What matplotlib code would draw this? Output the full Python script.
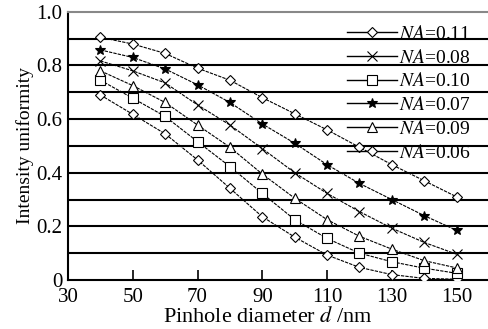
import matplotlib.pyplot as plt
import numpy as np

plt.rcParams['font.family'] = ['Liberation Serif', 'DejaVu Serif']
plt.rcParams['mathtext.fontset'] = 'stix'

# pinhole diameter d /nm
d = [40, 50, 60, 70, 80, 90, 100, 110, 120, 130, 140, 150]

# intensity uniformity per numerical aperture
na_006 = [0.905, 0.88, 0.845, 0.79, 0.745, 0.68, 0.62, 0.56, 0.495, 0.43, 0.37, 0.31]
na_007 = [0.858, 0.83, 0.787, 0.728, 0.662, 0.582, 0.51, 0.43, 0.36, 0.30, 0.24, 0.185]
na_008 = [0.817, 0.78, 0.735, 0.653, 0.578, 0.49, 0.40, 0.323, 0.255, 0.193, 0.14, 0.096]
na_009 = [0.78, 0.725, 0.662, 0.578, 0.495, 0.395, 0.305, 0.225, 0.163, 0.115, 0.072, 0.045]
na_010 = [0.745, 0.678, 0.61, 0.516, 0.423, 0.323, 0.225, 0.155, 0.10, 0.068, 0.044, 0.025]
na_011 = [0.69, 0.618, 0.545, 0.448, 0.342, 0.236, 0.16, 0.093, 0.047, 0.02, 0.006, 0.003]

# legend order as printed in the figure: (values, marker, size, face, label)
series = [
    (na_011, 'D', 5.5, 'white', '$NA$=0.11'),
    (na_008, 'x', 6.5, 'white', '$NA$=0.08'),
    (na_010, 's', 7, 'white', '$NA$=0.10'),
    (na_007, '*', 7, 'black', '$NA$=0.07'),
    (na_009, '^', 7, 'white', '$NA$=0.09'),
    (na_006, 'D', 5.5, 'white', '$NA$=0.06'),
]

fig = plt.figure(figsize=(4.89, 3.29), dpi=100)
ax = fig.add_axes([0.139, 0.149, 0.861, 0.815])

# horizontal rules every 0.1
for yv in np.arange(0.1, 1.0, 0.1):
    ax.axhline(yv, color='black', lw=1.5, zorder=1)

for vals, mk, ms, fc, lab in series:
    ax.plot(d, vals, color='black', lw=0.8, ls=(0, (3, 1)),
            marker=mk, ms=ms, mfc=fc, mec='black', mew=0.8,
            label=lab, zorder=3)

ax.set_xlim(30, 160)
ax.set_ylim(0, 1.0)
ax.set_xticks([30, 50, 70, 90, 110, 130, 150])
ax.set_yticks([0, 0.2, 0.4, 0.6, 0.8, 1.0])
ax.set_yticklabels(['0', '0.2', '0.4', '0.6', '0.8', '1.0'])
ax.tick_params(axis='x', direction='in', length=7, width=1.2, labelsize=15, pad=6)
ax.tick_params(axis='y', length=0, labelsize=15, pad=4)

for s in ['left', 'bottom']:
    ax.spines[s].set_linewidth(1.5)
ax.spines['right'].set_visible(False)
ax.spines['top'].set_color('#888888')
ax.spines['top'].set_linewidth(1.5)

ax.set_xlabel('Pinhole diameter $d$ /nm', fontsize=16)
ax.xaxis.set_label_coords(0.475, -0.1)
ax.set_ylabel('Intensity uniformity', fontsize=14, labelpad=2)

leg = ax.legend(loc='upper right', bbox_to_anchor=(0.995, 1.01), frameon=False,
                fontsize=14, handlelength=2.6, handletextpad=0.1,
                labelspacing=0.3, borderpad=0.3)
for ln in leg.get_lines():
    ln.set_linestyle('-')
    ln.set_linewidth(1.0)

fig.savefig('out.png', dpi=100)
